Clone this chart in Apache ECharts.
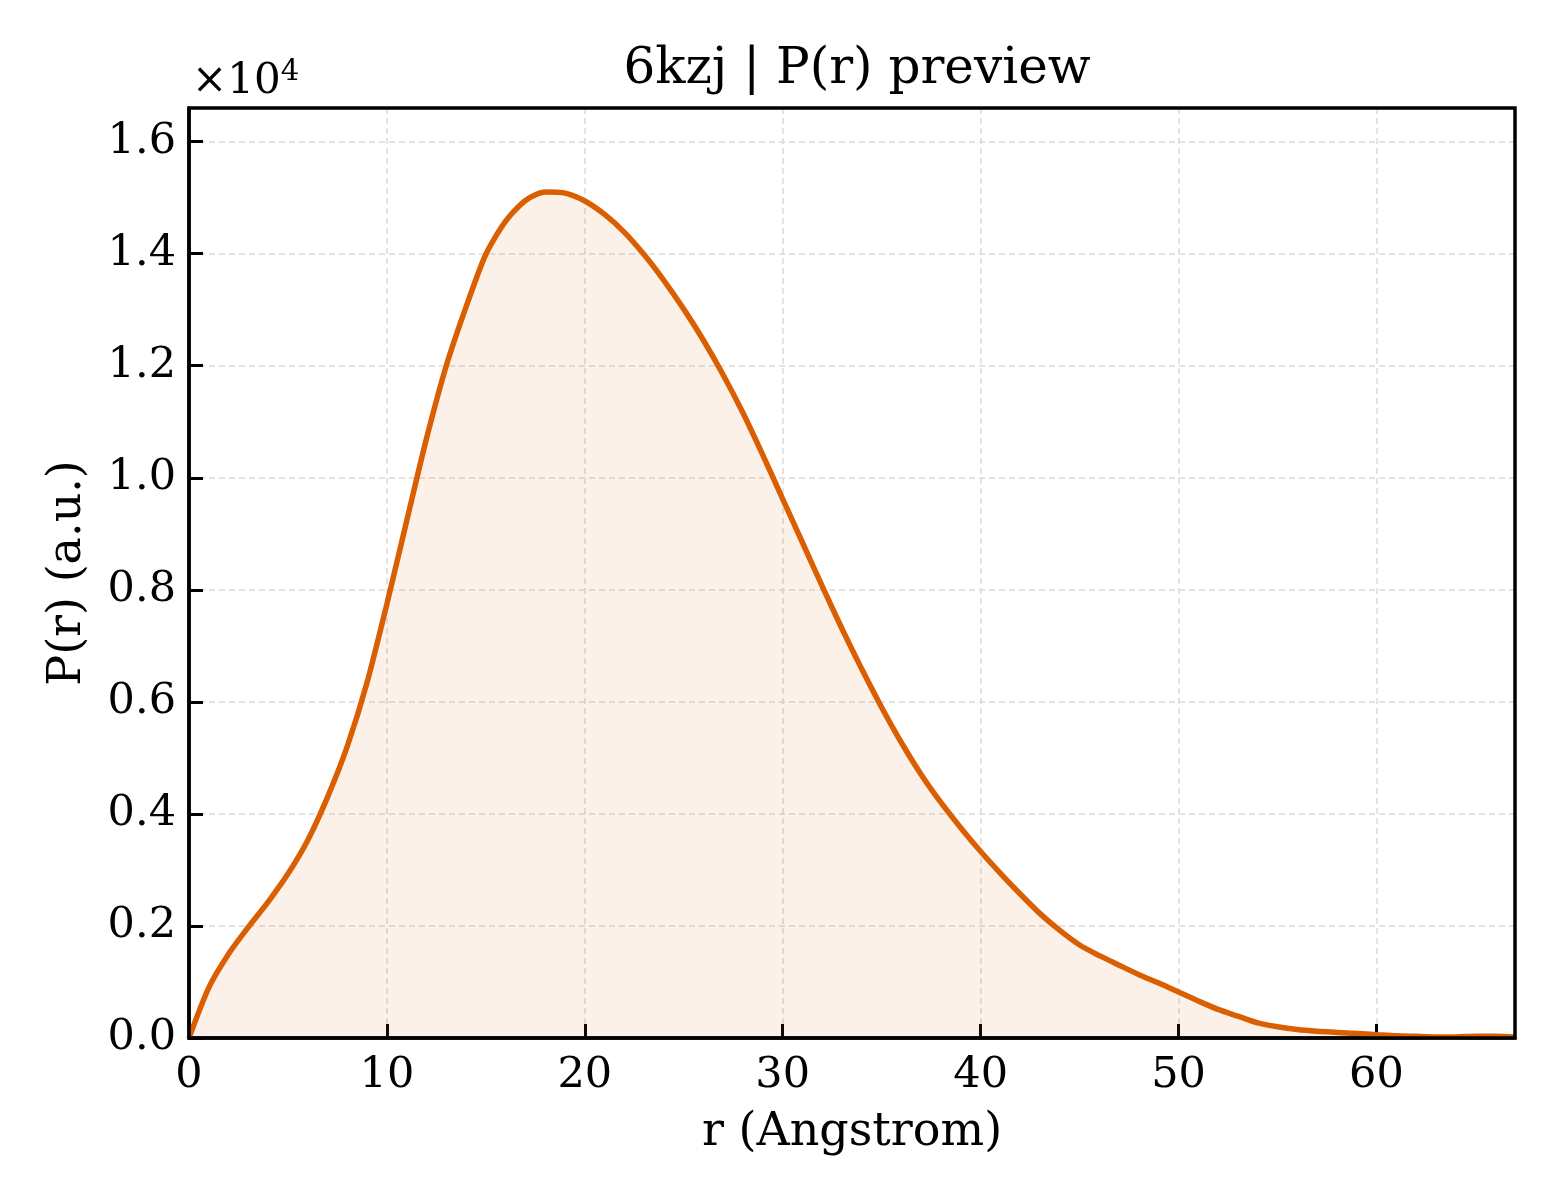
<!DOCTYPE html>
<html lang="en">
<head>
    <meta charset="UTF-8">
    <title>6kzj P(r) preview</title>
    <script type="text/javascript" src="https://cdn.jsdelivr.net/npm/echarts@6/dist/echarts.min.js"></script>
    <style>
        html, body { margin: 0; padding: 0; background: #ffffff; }
    </style>
</head>
<body>
<div id="main" style="width: 1560px;height:1200px;"></div>
<script type="text/javascript">
    // r in Angstrom, P(r) in a.u.
    var rValues = [0, 1, 2, 3, 4, 5, 6, 7, 8, 9, 10, 11, 12, 13, 14, 15, 16, 17, 18, 19,
        20, 21, 22, 23, 24, 25, 26, 27, 28, 29, 30, 31, 32, 33, 34, 35, 36, 37, 38, 39,
        40, 41, 42, 43, 44, 45, 46, 47, 48, 49, 50, 51, 52, 53, 54, 55, 56, 57, 58, 59,
        60, 61, 62, 63, 64, 65, 66, 67];
    var prValues = [0, 900, 1500, 1980, 2430, 2930, 3530, 4300, 5210, 6350, 7750, 9230, 10700, 12000, 13050, 13990, 14580, 14950, 15100, 15080,
        14940, 14700, 14380, 13980, 13520, 13010, 12450, 11830, 11150, 10400, 9620, 8840, 8060, 7300, 6580, 5900, 5270, 4700, 4200, 3750,
        3330, 2940, 2570, 2220, 1920, 1660, 1470, 1300, 1130, 980, 820, 660, 510, 390, 270, 200, 150, 120, 100, 80,
        60, 40, 30, 20, 20, 30, 30, 20];
    var xTicks = [0, 10, 20, 30, 40, 50, 60];

    var font = 'DejaVu Serif';
    var points = rValues.map(function (r, i) { return [r, prValues[i]]; });

    var option = {
        animation: false,
        backgroundColor: '#ffffff',
        title: {
            text: '6kzj | P(r) preview',
            left: 852,
            top: 40,
            textAlign: 'center',
            textStyle: { fontFamily: font, fontSize: 50, fontWeight: 'normal', color: '#000' }
        },
        graphic: [{
            type: 'text',
            left: 192,
            top: 58,
            style: {
                text: '×10{s|4}',
                rich: { s: { fontFamily: font, fontSize: 29, color: '#000', verticalAlign: 'top', padding: [0, 0, 20, 0] } },
                fontFamily: font,
                fontSize: 42,
                fill: '#000'
            }
        }],
        grid: {
            left: 189, right: 45, top: 108, bottom: 162, containLabel: false,
            show: true, borderColor: '#000', borderWidth: 3.5, backgroundColor: 'transparent', z: 5
        },
        xAxis: {
            type: 'value',
            min: 0,
            max: 67,
            interval: 10,
            name: 'r (Angstrom)',
            nameLocation: 'middle',
            nameGap: 72,
            nameTextStyle: { fontFamily: font, fontSize: 46, color: '#000' },
            axisLine: { onZero: false, lineStyle: { color: '#000', width: 3.5 } },
            axisTick: { inside: true, length: 14, lineStyle: { color: '#000', width: 3 } },
            axisLabel: {
                fontFamily: font, fontSize: 43, color: '#000', margin: 16, showMaxLabel: false,
                formatter: function (v) { return xTicks.indexOf(v) >= 0 ? String(v) : ''; }
            },
            splitLine: { show: true, showMinLine: false, showMaxLine: false, lineStyle: { color: '#dadada', type: [6, 4], width: 1.5 } }
        },
        yAxis: {
            type: 'value',
            min: 0,
            max: 16600,
            interval: 2000,
            name: 'P(r) (a.u.)',
            nameLocation: 'middle',
            nameGap: 98,
            nameRotate: 90,
            nameTextStyle: { fontFamily: font, fontSize: 46, color: '#000' },
            axisLine: { show: true, onZero: false, lineStyle: { color: '#000', width: 3.5 } },
            axisTick: { inside: true, length: 14, lineStyle: { color: '#000', width: 3 } },
            axisLabel: {
                fontFamily: font, fontSize: 43, color: '#000', margin: 13, showMaxLabel: false,
                formatter: function (v) { return (v / 10000).toFixed(1); }
            },
            splitLine: { show: true, showMinLine: false, showMaxLine: false, lineStyle: { color: '#dadada', type: [6, 4], width: 1.5 } }
        },
        series: [{
            name: 'P(r)',
            type: 'line',
            data: points,
            showSymbol: false,
            smooth: 0.25,
            lineStyle: { color: '#d95f02', width: 5.5 },
            areaStyle: { color: 'rgba(217, 95, 2, 0.13)' },
            z: 3
        }]
    };

    var myChart = echarts.init(document.getElementById('main'));
    myChart.setOption(option);
</script>
</body>
</html>
